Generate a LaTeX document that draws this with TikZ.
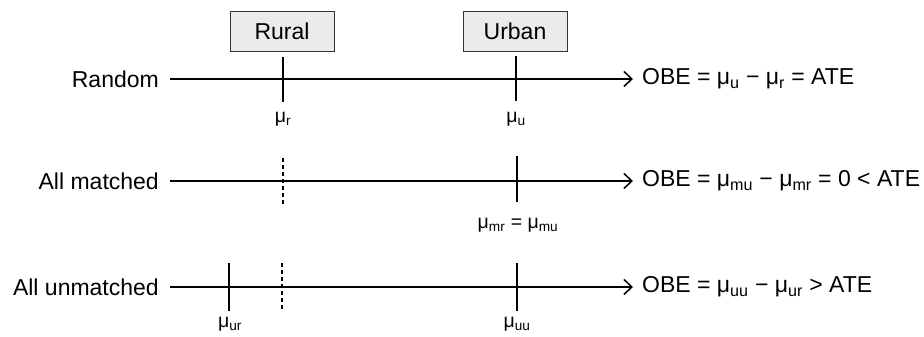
\documentclass[tikz,border=0pt]{standalone}
\usepackage{fontspec}
\setmainfont{Liberation Sans}
\usetikzlibrary{arrows.meta}
\newcommand{\lo}[1]{\textsubscript{#1}}
\begin{document}
\begin{tikzpicture}[x=1pt,y=-1pt,
  rowlabel/.style={anchor=east,inner sep=0pt,font=\fontsize{23}{27}\selectfont},
  obe/.style={anchor=west,inner sep=0pt,font=\fontsize{23}{27}\selectfont},
  axisline/.style={line width=1.8pt,-{Straight Barb[length=8pt,width=15pt,line width=1.5pt]}},
  tick/.style={line width=1.6pt},
  dtick/.style={line width=1.3pt,dash pattern=on 4pt off 3pt},
  ticklabel/.style={inner sep=0pt,font=\fontsize{19.5}{22}\selectfont},
  groupbox/.style={draw=black!80,line width=0.8pt,fill=black!8,minimum width=104pt,minimum height=40pt,inner sep=0pt,font=\fontsize{23}{26}\selectfont}]
\useasboundingbox (0,0) rectangle (924,337);
% boxes
\node[groupbox] (rural) at (282,31) {Rural};
\node[groupbox] (urban) at (515,31) {Urban};
% row 1
\node[rowlabel] (l1) at (159,79) {Random};
\coordinate (s1) at (170,79);
\coordinate (e1) at (633,79);
\draw[axisline] (s1) -- (e1);
\node[obe] (o1) at (642,79) {OBE = μ\lo{u} − μ\lo{r} = ATE};
\coordinate (t1a) at (283,57); \coordinate (t1b) at (283,102);
\coordinate (t1c) at (516,56); \coordinate (t1d) at (516,101);
\draw[tick] (t1a) -- (t1b);
\draw[tick] (t1c) -- (t1d);
\node[ticklabel] (m1r) at (283,119) {μ\lo{r}};
\node[ticklabel] (m1u) at (516,119) {μ\lo{u}};
% row 2
\node[rowlabel] (l2) at (159,181) {All matched};
\coordinate (s2) at (170,181);
\coordinate (e2) at (633,181);
\draw[axisline] (s2) -- (e2);
\node[obe] (o2) at (642,181) {OBE = μ\lo{mu} − μ\lo{mr} = 0 < ATE};
\coordinate (t2a) at (283,158); \coordinate (t2b) at (283,206);
\coordinate (t2c) at (517,156); \coordinate (t2d) at (517,202);
\draw[dtick] (t2a) -- (t2b);
\draw[tick] (t2c) -- (t2d);
\node[ticklabel] (m2) at (518,225) {μ\lo{mr} = μ\lo{mu}};
% row 3
\node[rowlabel] (l3) at (159,287) {All unmatched};
\coordinate (s3) at (170,287);
\coordinate (e3) at (633,287);
\draw[axisline] (s3) -- (e3);
\node[obe] (o3) at (642,287) {OBE = μ\lo{uu} − μ\lo{ur} > ATE};
\coordinate (t3a) at (229,263); \coordinate (t3b) at (229,311);
\coordinate (t3c) at (282,263); \coordinate (t3d) at (282,311);
\coordinate (t3e) at (517,263); \coordinate (t3f) at (517,311);
\draw[tick] (t3a) -- (t3b);
\draw[dtick] (t3c) -- (t3d);
\draw[tick] (t3e) -- (t3f);
\node[ticklabel] (m3r) at (230,324) {μ\lo{ur}};
\node[ticklabel] (m3u) at (517,324) {μ\lo{uu}};
\end{tikzpicture}
\end{document}
